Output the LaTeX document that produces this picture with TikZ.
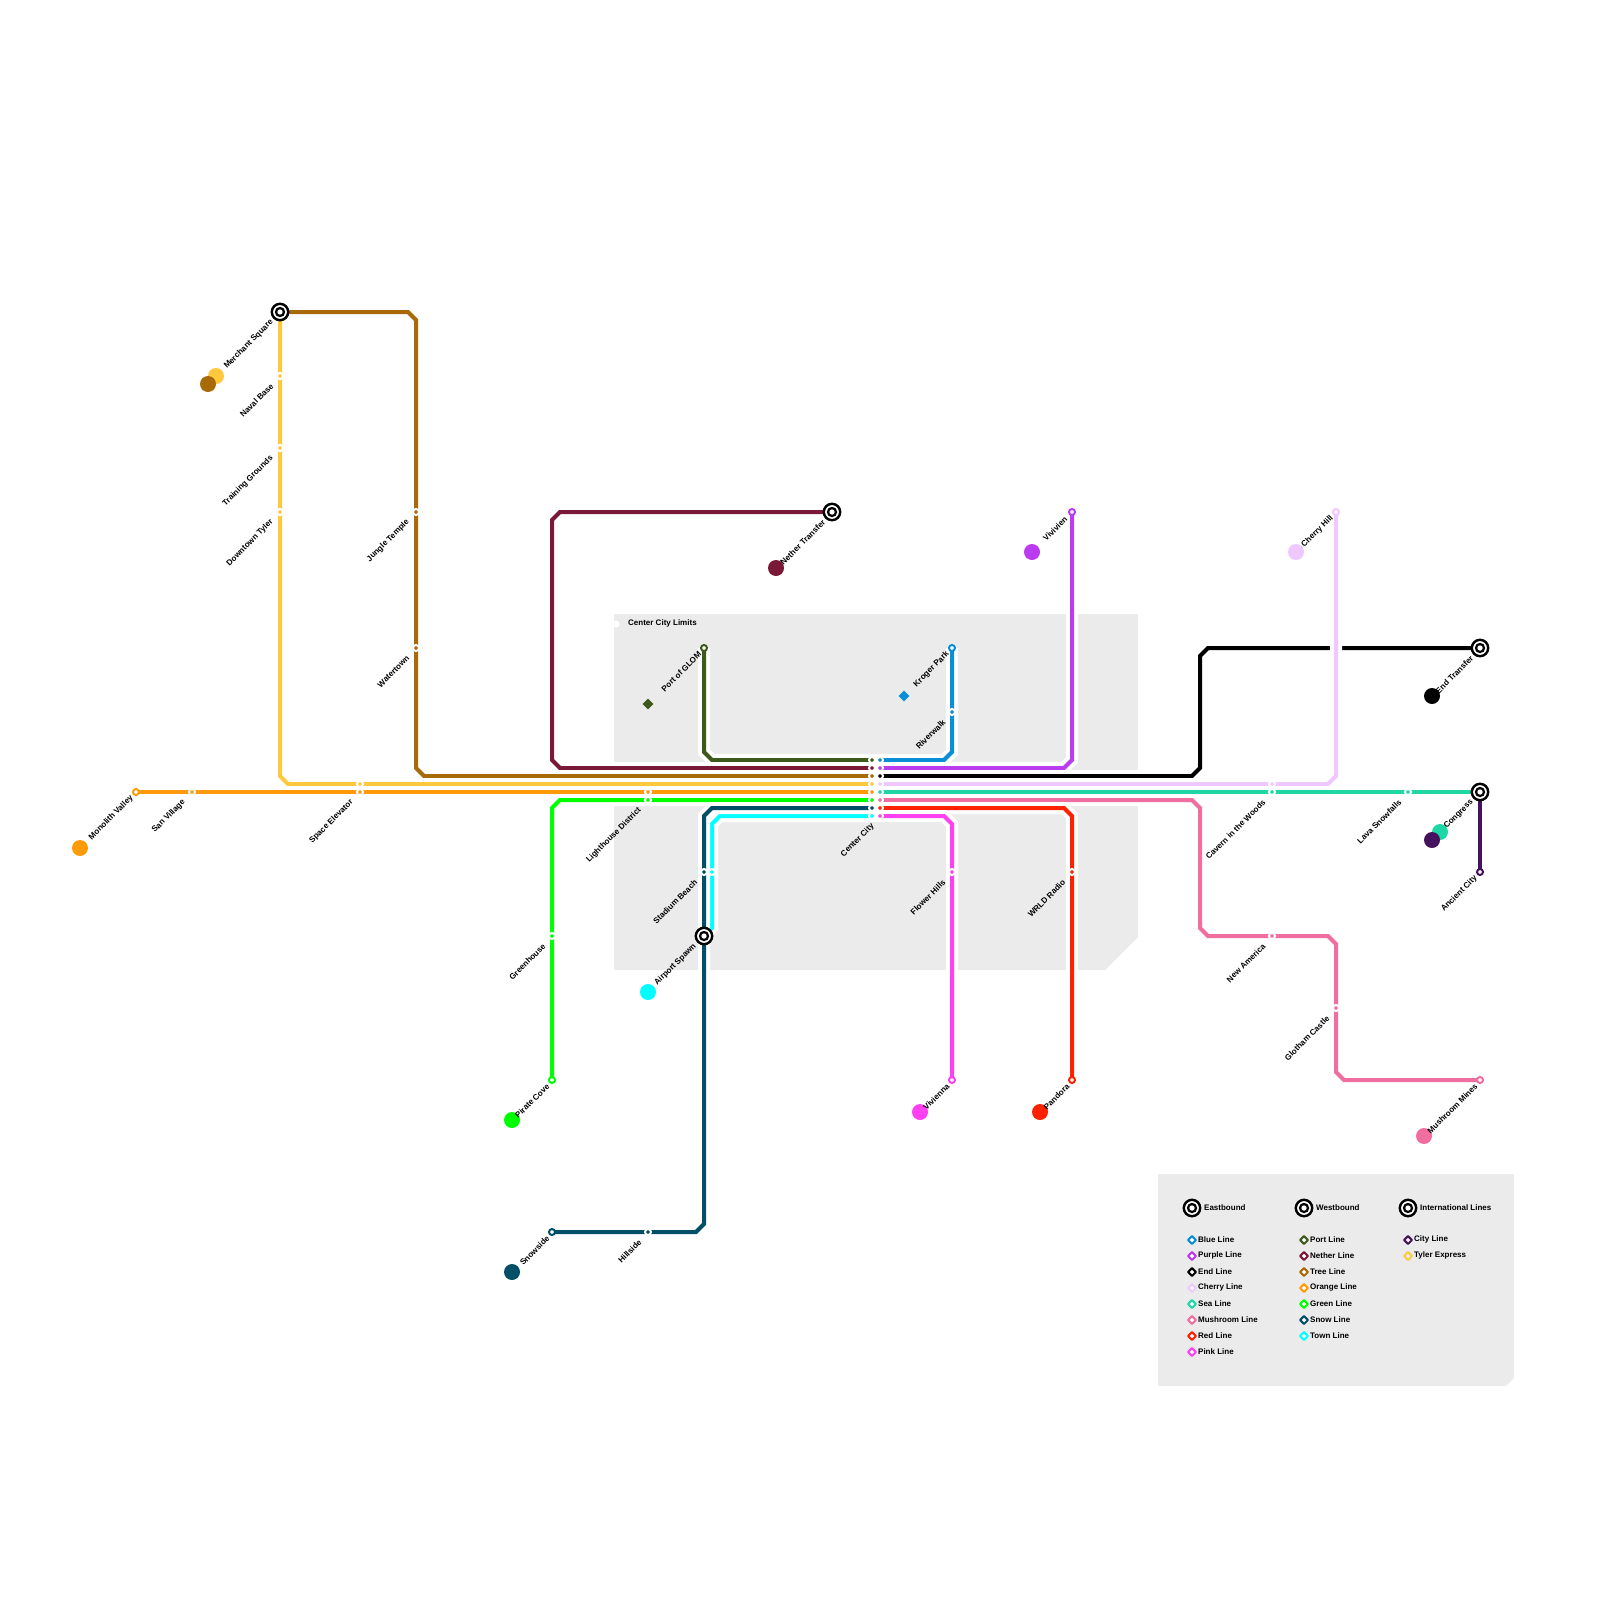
\documentclass[tikz,border=0pt]{standalone}
\usepackage{fontspec}
\usepackage{xcolor}
\usetikzlibrary{shapes.geometric}
\setmainfont{Liberation Sans}

\definecolor{blueline}{HTML}{0A8FD6}
\definecolor{purpleline}{HTML}{BB3BEE}
\definecolor{endline}{HTML}{000000}
\definecolor{cherryline}{HTML}{F0C8FF}
\definecolor{sealine}{HTML}{1FD6A5}
\definecolor{mushroomline}{HTML}{F06E9F}
\definecolor{redline}{HTML}{FF2200}
\definecolor{pinkline}{HTML}{FF40F0}
\definecolor{portline}{HTML}{3D5A1A}
\definecolor{netherline}{HTML}{7A1838}
\definecolor{treeline}{HTML}{A86A08}
\definecolor{orangeline}{HTML}{FF9A0A}
\definecolor{greenline}{HTML}{00FF00}
\definecolor{snowline}{HTML}{034F68}
\definecolor{townline}{HTML}{00FFFF}
\definecolor{cityline}{HTML}{45135E}
\definecolor{tylerline}{HTML}{FFC93E}
\definecolor{zonegrey}{HTML}{EBEBEB}

\pgfdeclarelayer{lines}
\pgfsetlayers{lines,main}

\tikzset{
  metro/.style={draw=white, line width=2mm, double=#1, double distance=2mm},
  stop/.style={circle, fill=#1, draw=white, line width=1mm, minimum size=3mm, inner sep=0pt, outer sep=0pt},
  terminus/.style={circle, fill=white, draw=#1, line width=1mm, minimum size=3mm, inner sep=0pt, outer sep=0pt},
  legendmark/.style={diamond, fill=white, draw=#1, line width=1mm, line join=round, minimum size=3.9mm, inner sep=0pt, outer sep=0pt},
  marker/.style={circle, fill=#1, minimum size=8mm, inner sep=0pt, outer sep=0pt},
  diamondmarker/.style={diamond, fill=#1, minimum size=5.4mm, inner sep=0pt, outer sep=0pt},
  transfer/.style={circle, fill=white, draw=black, line width=1.2mm, minimum size=8.2mm, inner sep=0pt, outer sep=0pt,
    path picture={
      \fill[black] (path picture bounding box.center) circle (2.6mm);
      \fill[white] (path picture bounding box.center) circle (1.35mm);
    }},
  stoplabel/.style={rotate=45, anchor=east, inner sep=0pt, font=\fontsize{11.5}{14}\selectfont\bfseries},
  legendtext/.style={anchor=west, inner sep=0pt, font=\fontsize{11.4}{13}\selectfont\bfseries},
}

\begin{document}
\begin{tikzpicture}[x=0.5mm, y=-0.5mm]

\useasboundingbox (0,0) rectangle (1600,1600);

%------------------------------------------------
% Termini
%------------------------------------------------

\node[transfer] (merchantsquare) at (280,312) {};
\node[transfer] (nethertransfer) at (832,512) {};
\node[transfer] (endtransfer) at (1480,648) {};
\node[transfer] (congress) at (1480,792) {};
\node[transfer] (airportspawn) at (704,936) {};

\node[terminus=orangeline] (monolith) at (136,792) {};
\node[terminus=portline] (portglom) at (704,648) {};
\node[terminus=blueline] (krogerpark) at (952,648) {};
\node[terminus=purpleline] (vivivien) at (1072,512) {};
\node[terminus=cherryline] (cherryhill) at (1336,512) {};
\node[terminus=cityline] (ancientcity) at (1480,872) {};
\node[terminus=greenline] (piratecove) at (552,1080) {};
\node[terminus=pinkline] (vivienna) at (952,1080) {};
\node[terminus=redline] (pandora) at (1072,1080) {};
\node[terminus=mushroomline] (mushroommines) at (1480,1080) {};
\node[terminus=snowline] (snowside) at (552,1232) {};

%------------------------------------------------
% Center City
%------------------------------------------------

\node[stop=portline] (cport) at (872,760) {};
\node[stop=netherline] (cnether) at (872,768) {};
\node[stop=treeline] (ctree) at (872,776) {};
\node[stop=tylerline] (ctyler) at (872,784) {};
\node[stop=orangeline] (corange) at (872,792) {};
\node[stop=greenline] (cgreen) at (872,800) {};
\node[stop=snowline] (csnow) at (872,808) {};
\node[stop=townline] (ctown) at (872,816) {};

\node[stop=blueline] (cblue) at (880,760) {};
\node[stop=purpleline] (cpurple) at (880,768) {};
\node[stop=endline] (cend) at (880,776) {};
\node[stop=cherryline] (ccherry) at (880,784) {};
\node[stop=sealine] (csea) at (880,792) {};
\node[stop=mushroomline] (cmushroom) at (880,800) {};
\node[stop=redline] (cred) at (880,808) {};
\node[stop=pinkline] (cpink) at (880,816) {};

%------------------------------------------------
% Other stops
%------------------------------------------------

\node[stop=tylerline] (navalbase) at (280,376) {};
\node[stop=tylerline] (training) at (280,448) {};
\node[stop=tylerline] (downtown) at (280,512) {};
\node[stop=treeline] (jungletemple) at (416,512) {};
\node[stop=treeline] (watertown) at (416,648) {};
\node[stop=orangeline] (sanvillage) at (192,792) {};
\node[stop=tylerline] (spacetyler) at (360,784) {};
\node[stop=orangeline] (spaceorange) at (360,792) {};
\node[stop=orangeline] (lighthouseorange) at (648,792) {};
\node[stop=greenline] (lighthousegreen) at (648,800) {};
\node[stop=greenline] (greenhouse) at (552,936) {};
\node[stop=snowline] (stadiumsnow) at (704,872) {};
\node[stop=townline] (stadiumtown) at (712,872) {};
\node[stop=snowline] (hillside) at (648,1232) {};
\node[stop=blueline] (riverwalk) at (952,712) {};
\node[stop=pinkline] (flowerhills) at (952,872) {};
\node[stop=redline] (wrldradio) at (1072,872) {};
\node[stop=cherryline] (caverncherry) at (1272,784) {};
\node[stop=sealine] (cavernsea) at (1272,792) {};
\node[stop=sealine] (lavasnowfalls) at (1408,792) {};
\node[stop=mushroomline] (newamerica) at (1272,936) {};
\node[stop=mushroomline] (glotham) at (1336,1008) {};

%------------------------------------------------
% Zones and lines
%------------------------------------------------

\begin{pgfonlayer}{lines}
\fill[zonegrey] (614,614) -- (1138,614) -- (1138,937) -- (1105,970) -- (614,970) -- cycle;
\fill[zonegrey] (1158,1174) -- (1514,1174) -- (1514,1378) -- (1506,1386) -- (1158,1386) -- cycle;
\fill[white] (872,754) rectangle (880,822);

\draw[metro=portline] (portglom.center) -- (704,752) -- (712,760) -- (cport.center);
\draw[metro=blueline] (krogerpark.center) -- (952,752) -- (944,760) -- (cblue.center);
\draw[metro=netherline] (nethertransfer.center) -- (560,512) -- (552,520) -- (552,760) -- (560,768) -- (cnether.center);
\draw[metro=purpleline] (vivivien.center) -- (1072,760) -- (1064,768) -- (cpurple.center);
\draw[metro=treeline] (merchantsquare.center) -- (408,312) -- (416,320) -- (416,768) -- (424,776) -- (ctree.center);
\draw[metro=endline] (cend.center) -- (1192,776) -- (1200,768) -- (1200,656) -- (1208,648) -- (endtransfer.center);
\draw[metro=tylerline] (merchantsquare.center) -- (280,776) -- (288,784) -- (ctyler.center);
\draw[metro=cherryline] (cherryhill.center) -- (1336,776) -- (1328,784) -- (ccherry.center);
\draw[metro=orangeline] (monolith.center) -- (corange.center);
\draw[metro=sealine] (csea.center) -- (congress.center);
\draw[metro=greenline] (piratecove.center) -- (552,808) -- (560,800) -- (cgreen.center);
\draw[metro=mushroomline] (cmushroom.center) -- (1192,800) -- (1200,808) -- (1200,928) -- (1208,936) -- (1328,936) -- (1336,944) -- (1336,1072) -- (1344,1080) -- (mushroommines.center);
\draw[metro=townline] (ctown.center) -- (720,816) -- (712,824) -- (712,928) -- (airportspawn.center);
\draw[metro=snowline] (csnow.center) -- (712,808) -- (704,816) -- (704,1224) -- (696,1232) -- (snowside.center);
\draw[metro=redline] (cred.center) -- (1064,808) -- (1072,816) -- (pandora.center);
\draw[metro=pinkline] (cpink.center) -- (944,816) -- (952,824) -- (vivienna.center);
\draw[metro=cityline] (congress.center) -- (ancientcity.center);
\end{pgfonlayer}

%------------------------------------------------
% Line markers
%------------------------------------------------

\node[marker=tylerline] (markertyler) at (216,376) {};
\node[marker=treeline] (markertree) at (208,384) {};
\node[marker=netherline] (markernether) at (776,568) {};
\node[marker=purpleline] (markerpurple) at (1032,552) {};
\node[marker=cherryline] (markercherry) at (1296,552) {};
\node[marker=endline] (markerend) at (1432,696) {};
\node[marker=sealine] (markersea) at (1440,832) {};
\node[marker=cityline] (markercity) at (1432,840) {};
\node[marker=orangeline] (markerorange) at (80,848) {};
\node[marker=townline] (markertown) at (648,992) {};
\node[marker=greenline] (markergreen) at (512,1120) {};
\node[marker=snowline] (markersnow) at (512,1272) {};
\node[marker=pinkline] (markerpink) at (920,1112) {};
\node[marker=redline] (markerred) at (1040,1112) {};
\node[marker=mushroomline] (markermushroom) at (1424,1136) {};
\node[diamondmarker=portline] (markerport) at (648,704) {};
\node[diamondmarker=blueline] (markerblue) at (904,696) {};

%------------------------------------------------
% Stop labels
%------------------------------------------------

\node[stoplabel] (labelmerchant) at (272,321) {Merchant Square};
\node[stoplabel] (labelnaval) at (272,385) {Naval Base};
\node[stoplabel] (labeltraining) at (272,457) {Training Grounds};
\node[stoplabel] (labeldowntown) at (272,521) {Downtown Tyler};
\node[stoplabel] (labeljungle) at (408,521) {Jungle Temple};
\node[stoplabel] (labelwatertown) at (408,657) {Watertown};
\node[stoplabel] (labelmonolith) at (132,797) {Monolith Valley};
\node[stoplabel] (labelsan) at (184,801) {San Village};
\node[stoplabel] (labelspace) at (352,801) {Space Elevator};
\node[stoplabel] (labellighthouse) at (640,809) {Lighthouse District};
\node[stoplabel] (labelgreenhouse) at (544,945) {Greenhouse};
\node[stoplabel] (labelpirate) at (548,1085) {Pirate Cove};
\node[stoplabel] (labelsnowside) at (548,1237) {Snowside};
\node[stoplabel] (labelhillside) at (640,1241) {Hillside};
\node[stoplabel] (labelport) at (700,653) {Port of GLOM};
\node[stoplabel] (labelstadium) at (696,881) {Stadium Beach};
\node[stoplabel] (labelairport) at (695,945) {Airport Spawn};
\node[stoplabel] (labelnether) at (824,521) {Nether Transfer};
\node[stoplabel] (labelkroger) at (948,653) {Kroger Park};
\node[stoplabel] (labelriverwalk) at (944,721) {Riverwalk};
\node[stoplabel] (labelcenter) at (873,825) {Center City};
\node[stoplabel] (labelflower) at (944,881) {Flower Hills};
\node[stoplabel] (labelvivienna) at (948,1085) {Vivienna};
\node[stoplabel] (labelvivivien) at (1066,518) {Vivivien};
\node[stoplabel] (labelwrld) at (1064,881) {WRLD Radio};
\node[stoplabel] (labelpandora) at (1068,1085) {Pandora};
\node[stoplabel] (labelcherry) at (1332,517) {Cherry Hill};
\node[stoplabel] (labelcavern) at (1264,801) {Cavern in the Woods};
\node[stoplabel] (labelnewamerica) at (1264,945) {New America};
\node[stoplabel] (labelglotham) at (1328,1017) {Glotham Castle};
\node[stoplabel] (labellava) at (1400,801) {Lava Snowfalls};
\node[stoplabel] (labelendtransfer) at (1472,657) {End Transfer};
\node[stoplabel] (labelcongress) at (1472,801) {Congress};
\node[stoplabel] (labelancient) at (1476,877) {Ancient City};
\node[stoplabel] (labelmines) at (1476,1085) {Mushroom Mines};

%------------------------------------------------
% Center City Limits
%------------------------------------------------

\node[circle, fill=white, minimum size=3.5mm, inner sep=0pt] (limitsdot) at (616,624) {};
\node[legendtext] (limitstext) at (628,623.5) {Center City Limits};

%------------------------------------------------
% Legend headings
%------------------------------------------------

\node[transfer] (legendeast) at (1192,1208) {};
\node[legendtext] (legendeasttext) at (1204,1207.5) {Eastbound};
\node[transfer] (legendwest) at (1304,1208) {};
\node[legendtext] (legendwesttext) at (1316,1207.5) {Westbound};
\node[transfer] (legendinter) at (1408,1208) {};
\node[legendtext] (legendintertext) at (1420,1207.5) {International Lines};

%------------------------------------------------
% Legend, first column
%------------------------------------------------

\node[legendmark=blueline] (keyblue) at (1192,1240) {};
\node[legendtext] (textblue) at (1198,1239.5) {Blue Line};
\node[legendmark=purpleline] (keypurple) at (1192,1256) {};
\node[legendtext] (textpurple) at (1198,1255.5) {Purple Line};
\node[legendmark=endline] (keyend) at (1192,1272) {};
\node[legendtext] (textend) at (1198,1271.5) {End Line};
\node[legendmark=cherryline] (keycherry) at (1192,1288) {};
\node[legendtext] (textcherry) at (1198,1287.5) {Cherry Line};
\node[legendmark=sealine] (keysea) at (1192,1304) {};
\node[legendtext] (textsea) at (1198,1303.5) {Sea Line};
\node[legendmark=mushroomline] (keymushroom) at (1192,1320) {};
\node[legendtext] (textmushroom) at (1198,1319.5) {Mushroom Line};
\node[legendmark=redline] (keyred) at (1192,1336) {};
\node[legendtext] (textred) at (1198,1335.5) {Red Line};
\node[legendmark=pinkline] (keypink) at (1192,1352) {};
\node[legendtext] (textpink) at (1198,1351.5) {Pink Line};

%------------------------------------------------
% Legend, second column
%------------------------------------------------

\node[legendmark=portline] (keyport) at (1304,1240) {};
\node[legendtext] (textport) at (1310,1239.5) {Port Line};
\node[legendmark=netherline] (keynether) at (1304,1256) {};
\node[legendtext] (textnether) at (1310,1255.5) {Nether Line};
\node[legendmark=treeline] (keytree) at (1304,1272) {};
\node[legendtext] (texttree) at (1310,1271.5) {Tree Line};
\node[legendmark=orangeline] (keyorange) at (1304,1288) {};
\node[legendtext] (textorange) at (1310,1287.5) {Orange Line};
\node[legendmark=greenline] (keygreen) at (1304,1304) {};
\node[legendtext] (textgreen) at (1310,1303.5) {Green Line};
\node[legendmark=snowline] (keysnow) at (1304,1320) {};
\node[legendtext] (textsnow) at (1310,1319.5) {Snow Line};
\node[legendmark=townline] (keytown) at (1304,1336) {};
\node[legendtext] (texttown) at (1310,1335.5) {Town Line};

%------------------------------------------------
% Legend, third column
%------------------------------------------------

\node[legendmark=cityline] (keycity) at (1408,1240) {};
\node[legendtext] (textcity) at (1414,1239.5) {City Line};
\node[legendmark=tylerline] (keytyler) at (1408,1256) {};
\node[legendtext] (texttyler) at (1414,1255.5) {Tyler Express};

\end{tikzpicture}
\end{document}
